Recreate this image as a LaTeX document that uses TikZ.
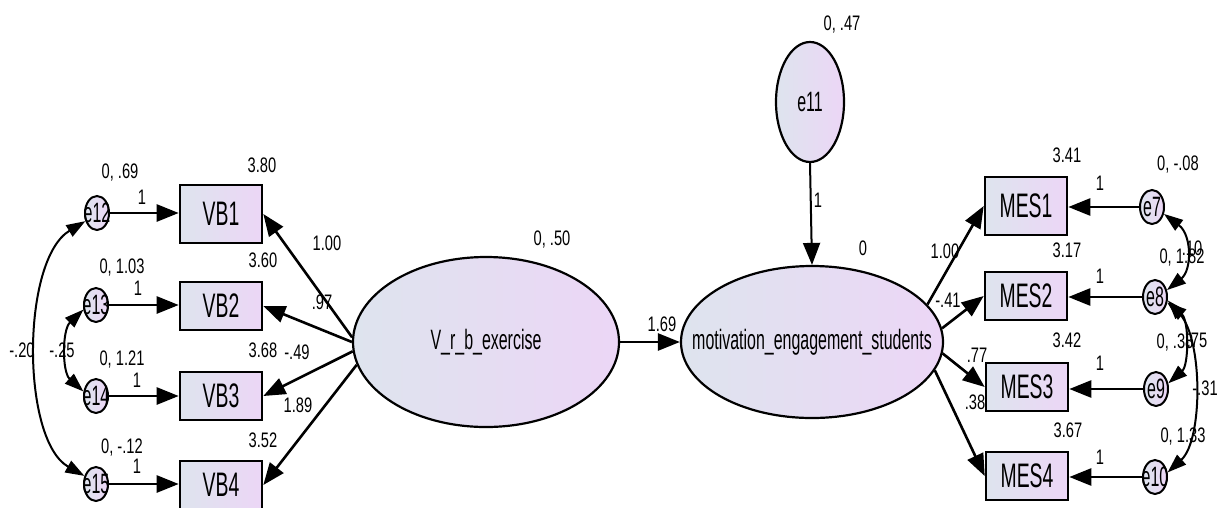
\documentclass[tikz,border=0pt]{standalone}
\usepackage{fontspec}
\setmainfont{Liberation Sans}
\newfontfamily\numfont{Liberation Sans}[FakeStretch=0.7]
\newfontfamily\namefont{Liberation Sans}[FakeStretch=0.57]
\usetikzlibrary{arrows.meta}
\usetikzlibrary{shapes.geometric}
\definecolor{leftfill}{RGB}{222,228,238}
\definecolor{rightfill}{RGB}{236,214,246}

\begin{document}
\begin{tikzpicture}[x=1pt,y=1pt,
  obs/.style={draw, line width=2.6pt, left color=leftfill, right color=rightfill, minimum width=82pt, minimum height=48pt, inner sep=0pt, font=\namefont\fontsize{34}{34}\selectfont},
  lat/.style={draw, line width=2.2pt, ellipse, left color=leftfill, right color=rightfill, inner sep=0pt, label={[font=\namefont\fontsize{28}{28}\selectfont]center:#1}},
  err/.style={draw, line width=2pt, ellipse, left color=leftfill, right color=rightfill, minimum width=24pt, minimum height=34pt, inner sep=0pt, label={[font=\namefont\fontsize{28}{28}\selectfont]center:#1}},
  num/.style={font=\numfont\fontsize{21}{21}\selectfont, inner sep=0pt},
  path/.style={line width=2.6pt, -{Triangle[length=22pt,width=17pt]}},
  cov/.style={line width=2pt, {Triangle[length=19pt,width=13pt]}-{Triangle[length=19pt,width=13pt]}}]
\useasboundingbox (0,0) rectangle (1224,-507);

% observed variables
\node [obs, minimum height=58pt] (vb1) at (221,-214) {VB1};
\node [obs] (vb2) at (221,-306) {VB2};
\node [obs] (vb3) at (221,-396) {VB3};
\node [obs] (vb4) at (221,-485) {VB4};
\node [obs, minimum height=58pt] (mes1) at (1026,-206) {MES1};
\node [obs] (mes2) at (1026,-296) {MES2};
\node [obs] (mes3) at (1027,-387) {MES3};
\node [obs] (mes4) at (1027,-476) {MES4};

% errors
\node [err=e12] (e12) at (97,-213) {};
\node [err=e13] (e13) at (96,-305) {};
\node [err=e14] (e14) at (96,-396) {};
\node [err=e15] (e15) at (96,-484) {};
\node [err=e7] (e7) at (1152,-207) {};
\node [err=e8] (e8) at (1155,-297) {};
\node [err=e9] (e9) at (1156,-389) {};
\node [err=e10] (e10) at (1155,-477) {};

% latent variables
\node [lat=V\_r\_b\_exercise, minimum width=266pt, minimum height=170pt] (vrb) at (486,-342) {};
\node [lat=motivation\_engagement\_students, minimum width=262pt, minimum height=152pt] (mot) at (812,-342) {};
\node [lat=e11, minimum width=68pt, minimum height=120pt] (e11) at (810,-102) {};

% paths
\draw [path] (e12.east) -- (e12.east -| vb1.west);
\draw [path] (e13.east) -- (e13.east -| vb2.west);
\draw [path] (e14.east) -- (e14.east -| vb3.west);
\draw [path] (e15.east) -- (e15.east -| vb4.west);
\draw [path] (vrb.178) -- (vb1.east);
\draw [path] (vrb.180) -- (vb2.east);
\draw [path] (vrb.184) -- (vb3.east);
\draw [path] (vrb.190) -- (vb4.east);
\draw [path] (vrb.east) -- (mot.west);
\draw [path, line width=2pt] (e11.south) -- (mot.north);
\draw [path] (mot.18) -- (mes1.west);
\draw [path] (mot.6) -- (mes2.west);
\draw [path] (mot.355) -- (mes3.west);
\draw [path] (mot.347) -- (mes4.west);
\draw [path] (e7.west) -- (e7.west -| mes1.east);
\draw [path] (e8.west) -- (e8.west -| mes2.east);
\draw [path] (e9.west) -- (e9.west -| mes3.east);
\draw [path] (e10.west) -- (e10.west -| mes4.east);

% covariances
\draw [cov] (e12.215) .. controls (21,-260) and (21,-440) .. (e15.145);
\draw [cov] (e13.200) .. controls (62,-330) and (62,-372) .. (e14.160);
\draw [cov] (e7.330) .. controls (1192,-235) and (1192,-270) .. (e8.30);
\draw [cov] (e8.335) .. controls (1189,-320) and (1189,-365) .. (e9.25);
\draw [cov] (e8.345) .. controls (1203,-340) and (1203,-440) .. (e10.20);

% estimates
\node [num] (var12) at (120,-173) {0, .69};
\node [num] (one12) at (142,-197) {1};
\node [num] (int1) at (262,-165) {3.80};
\node [num] (var13) at (122,-268) {0, 1.03};
\node [num] (one13) at (138,-288) {1};
\node [num] (int2) at (263,-260) {3.60};
\node [num] (var14) at (122,-360) {0, 1.21};
\node [num] (one14) at (137,-380) {1};
\node [num] (int3) at (263,-350) {3.68};
\node [num] (var15) at (122,-448) {0, -.12};
\node [num] (one15) at (137,-466) {1};
\node [num] (int4) at (263,-440) {3.52};
\node [num] (w1) at (327,-243) {1.00};
\node [num] (w2) at (322,-302) {.97};
\node [num] (w3) at (297,-352) {-.49};
\node [num] (w4) at (298,-405) {1.89};
\node [num] (c1215) at (22,-350) {-.20};
\node [num] (c1314) at (62,-350) {-.25};

\node [num] (varvrb) at (552,-240) {0, .50};
\node [num] (beta) at (662,-324) {1.69};
\node [num] (var11) at (842,-25) {0, .47};
\node [num] (one11) at (818,-200) {1};
\node [num] (intmot) at (863,-248) {0};

\node [num] (int5) at (1067,-155) {3.41};
\node [num] (var7) at (1178,-165) {0, -.08};
\node [num] (one7) at (1100,-183) {1};
\node [num] (w5) at (945,-251) {1.00};
\node [num] (int6) at (1067,-250) {3.17};
\node [num] (c78) at (1192,-248) {.10};
\node [num] (var8) at (1182,-258) {0, 1.82};
\node [num] (one8) at (1100,-276) {1};
\node [num] (w6) at (948,-300) {-.41};
\node [num] (int7) at (1067,-340) {3.42};
\node [num] (var9) at (1175,-343) {0, .38};
\node [num] (c89) at (1197,-340) {.75};
\node [num] (one9) at (1100,-363) {1};
\node [num] (w7) at (977,-355) {.77};
\node [num] (w8) at (975,-402) {.38};
\node [num] (c810) at (1205,-388) {-.31};
\node [num] (int8) at (1068,-430) {3.67};
\node [num] (var10) at (1183,-437) {0, 1.33};
\node [num] (one10) at (1100,-457) {1};
\end{tikzpicture}
\end{document}
